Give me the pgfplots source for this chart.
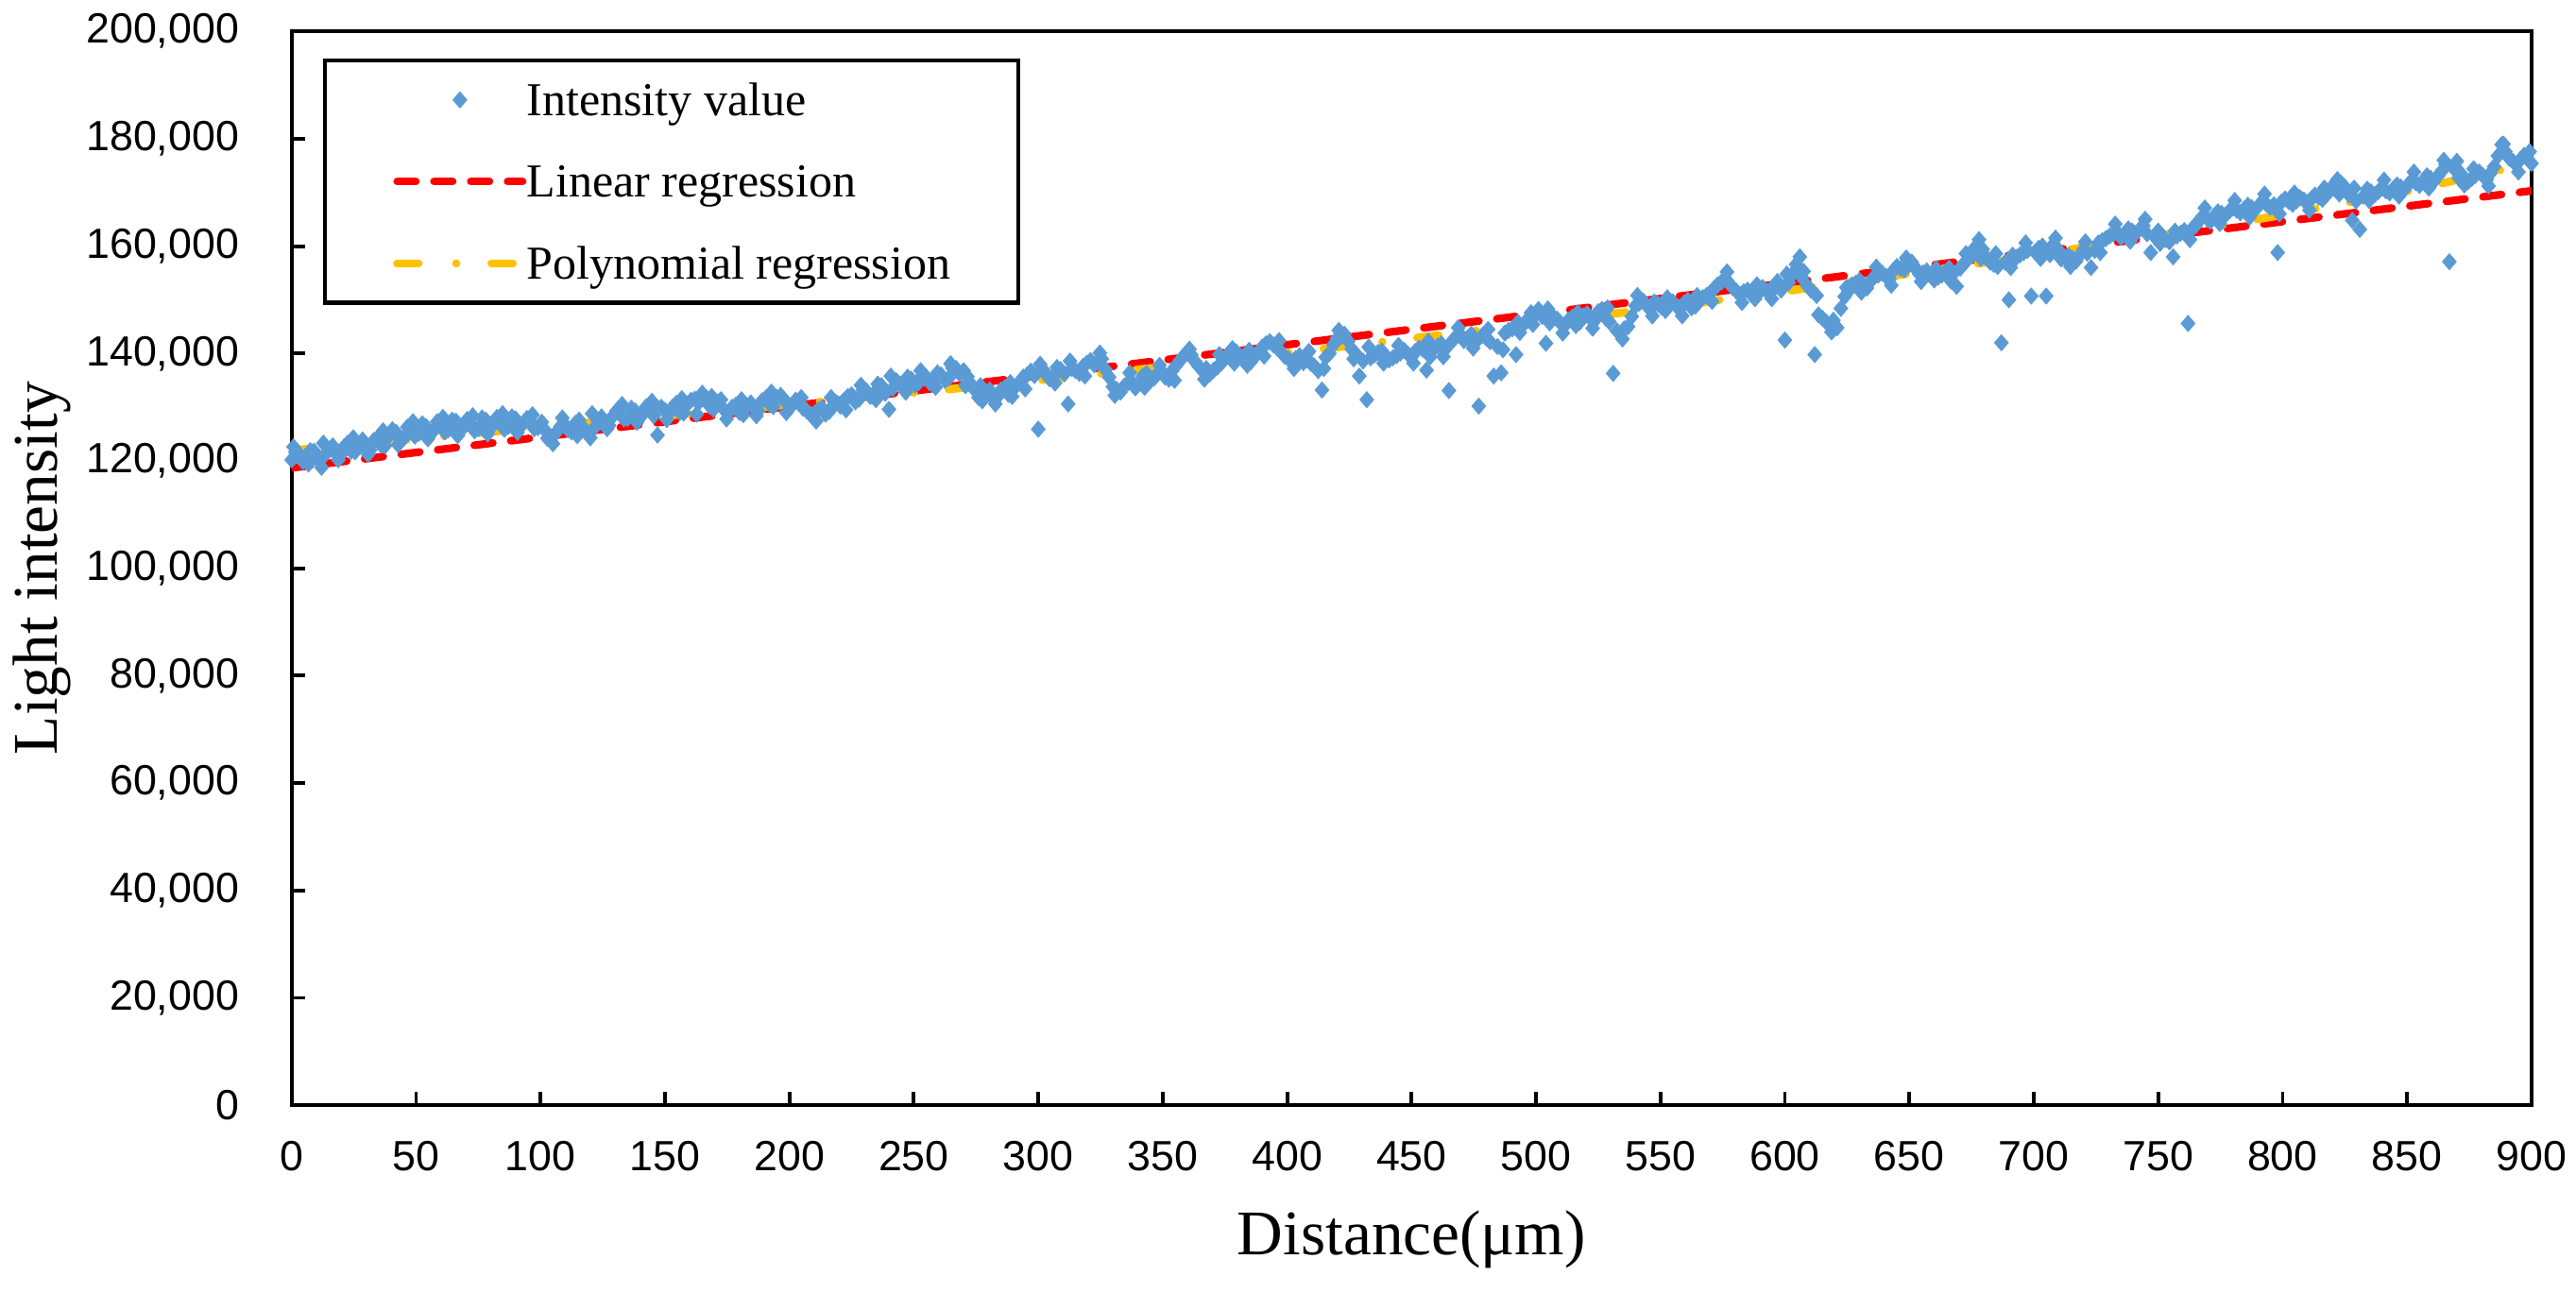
\documentclass[border=0pt]{standalone}
\usepackage{fontspec}
\setmainfont{Liberation Serif}
\newfontfamily\arialfont{Liberation Sans}
\usepackage{pgfplots}
\usepackage{pgfplotstable}
\pgfplotsset{compat=1.18}
\definecolor{ptblue}{HTML}{5B9BD5}
\definecolor{lnred}{HTML}{FF0000}
\definecolor{polyy}{HTML}{FFC000}
\pgfplotsset{
  mylinelegend/.style={legend image code/.code={\draw[##1] (0pt,0pt) -- (27.6pt,0pt);}},
  mymarklegend/.style={legend image code/.code={\draw[##1] plot coordinates {(13.8pt,0pt)};}},
  ptstyle/.style={only marks, mark=diamond*, mark size=1.75pt, color=ptblue,
    mark options={xscale=1.15, fill=ptblue, draw=ptblue, line width=0.2pt}},
}

\pgfplotstableread[row sep=\\]{
x y\\
0 120200\\ 3 121300\\ 6 120500\\ 9 121800\\ 12 118800\\ 15 122000\\ 18 121200\\ 21 122600\\ 24 121800\\ 27 123200\\
30 122400\\ 33 123800\\ 36 122900\\ 39 124600\\ 42 125300\\ 45 124200\\ 48 126000\\ 51 125100\\ 54 126400\\ 57 125600\\
60 126800\\ 63 125800\\ 66 127400\\ 69 126200\\ 72 127000\\ 75 126000\\ 78 127600\\ 81 126700\\ 84 127300\\ 87 126400\\
90 127800\\ 93 126900\\ 96 127200\\ 99 126200\\ 102 125600\\ 105 123200\\ 108 126400\\ 111 125800\\ 114 127000\\ 117 126300\\
120 124300\\ 123 127500\\ 126 127000\\ 129 128300\\ 132 128900\\ 135 127900\\ 138 129300\\ 141 128600\\ 144 129800\\ 147 124800\\
150 129400\\ 153 130000\\ 156 129000\\ 159 130600\\ 162 131500\\ 165 132600\\ 168 130200\\ 171 131000\\ 174 129400\\ 177 130000\\
180 129000\\ 183 130300\\ 186 129700\\ 189 131200\\ 192 130600\\ 195 131800\\ 198 131200\\ 201 130300\\ 204 130900\\ 207 129300\\
210 128800\\ 213 129900\\ 216 129200\\ 219 130800\\ 222 131300\\ 225 132300\\ 228 131500\\ 231 133000\\ 234 132600\\ 237 134000\\
240 129600\\ 243 134900\\ 246 133800\\ 249 135200\\ 252 134600\\ 255 135600\\ 258 134800\\ 261 136000\\ 264 135400\\ 267 137200\\
270 136800\\ 273 134300\\ 276 131800\\ 279 132800\\ 282 131600\\ 285 133200\\ 288 132400\\ 291 133900\\ 294 135600\\ 297 136700\\
300 125900\\ 303 136400\\ 306 135600\\ 309 137000\\ 312 130600\\ 315 136800\\ 318 137600\\ 321 138700\\ 324 138400\\ 327 137000\\
330 133800\\ 333 132800\\ 336 134500\\ 339 133600\\ 342 135800\\ 345 134900\\ 348 136300\\ 351 135600\\ 354 136900\\ 357 138700\\
360 140300\\ 363 138500\\ 366 136800\\ 369 136200\\ 372 137500\\ 375 139000\\ 378 140900\\ 381 139600\\ 384 137800\\ 387 139400\\
390 141200\\ 393 142200\\ 396 141000\\ 399 139500\\ 402 138400\\ 405 139600\\ 408 138800\\ 411 137600\\ 414 133200\\ 417 140000\\
420 142800\\ 423 143600\\ 426 140800\\ 429 135800\\ 432 131400\\ 435 139700\\ 438 140500\\ 441 138800\\ 444 139600\\ 447 140600\\
450 139400\\ 453 141000\\ 456 136900\\ 459 140900\\ 462 141800\\ 465 133100\\ 468 143200\\ 471 142400\\ 474 143600\\ 477 130200\\
480 142900\\ 483 135800\\ 486 136400\\ 489 144300\\ 492 139800\\ 495 145400\\ 498 147600\\ 501 148200\\ 504 141900\\ 507 146800\\
510 145600\\ 513 146200\\ 516 145200\\ 519 147000\\ 522 146400\\ 525 147800\\ 528 146600\\ 531 136300\\ 534 143800\\ 537 145000\\
540 148900\\ 543 149800\\ 546 148400\\ 549 149200\\ 552 148000\\ 555 149600\\ 558 148400\\ 561 149900\\ 564 148800\\ 567 150400\\
570 151300\\ 573 152800\\ 576 154000\\ 579 152300\\ 582 151000\\ 585 151800\\ 588 150200\\ 591 152300\\ 594 151200\\ 597 153400\\
600 142500\\ 603 154800\\ 606 158000\\ 609 152600\\ 612 139800\\ 615 146600\\ 618 145300\\ 621 144800\\ 624 150600\\ 627 152800\\
630 153600\\ 633 152200\\ 636 154300\\ 639 155000\\ 642 153800\\ 645 156200\\ 648 155600\\ 651 157000\\ 654 154800\\ 657 155400\\
660 153700\\ 663 154600\\ 666 155900\\ 669 152500\\ 672 156800\\ 675 158200\\ 678 161200\\ 681 157800\\ 684 156600\\ 687 142000\\
690 150000\\ 693 157900\\ 696 158800\\ 699 150700\\ 702 159600\\ 705 150700\\ 708 160400\\ 711 157600\\ 714 158200\\ 717 157200\\
720 159400\\ 723 156000\\ 726 160600\\ 729 161400\\ 732 162300\\ 735 161600\\ 738 163200\\ 741 162400\\ 744 163800\\ 747 158800\\
750 162800\\ 753 161200\\ 756 158000\\ 759 162400\\ 762 145600\\ 765 163800\\ 768 165600\\ 771 164600\\ 774 166400\\ 777 165800\\
780 167100\\ 783 166200\\ 786 167600\\ 789 166800\\ 792 168400\\ 795 167200\\ 798 158800\\ 801 168800\\ 804 167800\\ 807 169000\\
810 168100\\ 813 169500\\ 816 168700\\ 819 170300\\ 822 172400\\ 825 171000\\ 828 164800\\ 831 163100\\ 834 170600\\ 837 169600\\
840 170800\\ 843 169900\\ 846 171400\\ 849 170600\\ 852 172300\\ 855 171300\\ 858 173100\\ 861 172200\\ 864 174000\\ 867 157100\\
870 175800\\ 873 171400\\ 876 172600\\ 879 173800\\ 882 172400\\ 885 174800\\ 888 178900\\ 891 176400\\ 894 175300\\ 897 176900\\
900 175400\\
}\scatterdata

\pgfplotstableread[row sep=\\]{
x y\\
1.5 121600\\ 4.5 119900\\ 7.5 121900\\ 10.5 120400\\ 13.5 121200\\ 16.5 122800\\ 19.5 121000\\ 22.5 123300\\ 25.5 121700\\ 28.5 123900\\
31.5 122000\\ 34.5 124300\\ 37.5 122800\\ 40.5 125800\\ 43.5 124000\\ 46.5 126300\\ 49.5 124600\\ 52.5 126900\\ 55.5 125000\\ 58.5 127300\\
61.5 125400\\ 64.5 127600\\ 67.5 125900\\ 70.5 127700\\ 73.5 125600\\ 76.5 128000\\ 79.5 126100\\ 82.5 128100\\ 85.5 125900\\ 88.5 128200\\
91.5 126500\\ 94.5 127900\\ 97.5 126000\\ 100.5 127200\\ 103.5 124600\\ 106.5 125400\\ 109.5 126900\\ 112.5 125400\\ 115.5 127600\\ 118.5 125500\\
121.5 126100\\ 124.5 128200\\ 127.5 126600\\ 130.5 129300\\ 133.5 127800\\ 136.5 129800\\ 139.5 128000\\ 142.5 130100\\ 145.5 128400\\ 148.5 130000\\
151.5 128800\\ 154.5 130700\\ 157.5 128900\\ 160.5 131300\\ 163.5 130800\\ 166.5 131800\\ 169.5 129600\\ 172.5 131400\\ 175.5 129000\\ 178.5 130400\\
181.5 128600\\ 184.5 130800\\ 187.5 129300\\ 190.5 131700\\ 193.5 130100\\ 196.5 132200\\ 199.5 130600\\ 202.5 131300\\ 205.5 129800\\ 208.5 128600\\
211.5 129500\\ 214.5 128700\\ 217.5 130300\\ 220.5 130200\\ 223.5 132000\\ 226.5 131000\\ 229.5 133200\\ 232.5 132000\\ 235.5 134300\\ 238.5 132600\\
241.5 133500\\ 244.5 134200\\ 247.5 135600\\ 250.5 134100\\ 253.5 135900\\ 256.5 134500\\ 259.5 136400\\ 262.5 135000\\ 265.5 137300\\ 268.5 136200\\
271.5 135700\\ 274.5 133200\\ 277.5 131200\\ 280.5 133200\\ 283.5 131900\\ 286.5 133600\\ 289.5 132000\\ 292.5 134700\\ 295.5 136000\\ 298.5 135900\\
301.5 136900\\ 304.5 135300\\ 307.5 137400\\ 310.5 136200\\ 313.5 137200\\ 316.5 136300\\ 319.5 138200\\ 322.5 137900\\ 325.5 139000\\ 328.5 135600\\
331.5 133300\\ 334.5 133900\\ 337.5 134800\\ 340.5 134400\\ 343.5 136300\\ 346.5 135400\\ 349.5 136700\\ 352.5 135200\\ 355.5 137800\\ 358.5 139600\\
361.5 139700\\ 364.5 137600\\ 367.5 137200\\ 370.5 136900\\ 373.5 138200\\ 376.5 139900\\ 379.5 140300\\ 382.5 138800\\ 385.5 138500\\ 388.5 140300\\
391.5 141800\\ 394.5 141600\\ 397.5 140300\\ 400.5 139000\\ 403.5 139100\\ 406.5 138300\\ 409.5 138200\\ 412.5 136800\\ 415.5 139300\\ 418.5 141600\\
421.5 143100\\ 424.5 142300\\ 427.5 140000\\ 430.5 138600\\ 433.5 139200\\ 436.5 140200\\ 439.5 139600\\ 442.5 139200\\ 445.5 140100\\ 448.5 139900\\
451.5 140400\\ 454.5 140800\\ 457.5 139400\\ 460.5 141400\\ 463.5 140800\\ 466.5 142400\\ 469.5 143600\\ 472.5 142900\\ 475.5 142000\\ 478.5 143400\\
481.5 142200\\ 484.5 141300\\ 487.5 143800\\ 490.5 144600\\ 493.5 143900\\ 496.5 146300\\ 499.5 147100\\ 502.5 146900\\ 505.5 145700\\ 508.5 146400\\
511.5 145200\\ 514.5 146700\\ 517.5 145800\\ 520.5 147400\\ 523.5 146100\\ 526.5 148200\\ 529.5 145900\\ 532.5 144200\\ 535.5 144600\\ 538.5 146900\\
541.5 149400\\ 544.5 148900\\ 547.5 149600\\ 550.5 148600\\ 553.5 149000\\ 556.5 148800\\ 559.5 149400\\ 562.5 148500\\ 565.5 149800\\ 568.5 150800\\
571.5 152100\\ 574.5 153300\\ 577.5 153100\\ 580.5 151600\\ 583.5 151500\\ 586.5 151000\\ 589.5 151300\\ 592.5 151700\\ 595.5 152600\\ 598.5 151800\\
601.5 153200\\ 604.5 156600\\ 607.5 155300\\ 610.5 151800\\ 613.5 147200\\ 616.5 145900\\ 619.5 146200\\ 622.5 148400\\ 625.5 151600\\ 628.5 153100\\
631.5 152800\\ 634.5 153500\\ 637.5 154600\\ 640.5 154400\\ 643.5 155400\\ 646.5 155800\\ 649.5 156400\\ 652.5 155800\\ 655.5 155000\\ 658.5 154500\\
661.5 154200\\ 664.5 155200\\ 667.5 154800\\ 670.5 155900\\ 673.5 157500\\ 676.5 159800\\ 679.5 159400\\ 682.5 157000\\ 685.5 156200\\ 688.5 157000\\
691.5 158300\\ 694.5 158400\\ 697.5 159200\\ 700.5 158900\\ 703.5 160000\\ 706.5 158400\\ 709.5 159500\\ 712.5 157900\\ 715.5 157700\\ 718.5 158300\\
721.5 158700\\ 724.5 159200\\ 727.5 161000\\ 730.5 161900\\ 733.5 162600\\ 736.5 162400\\ 739.5 162800\\ 742.5 163100\\ 745.5 162300\\ 748.5 161800\\
751.5 162000\\ 754.5 160800\\ 757.5 161900\\ 760.5 162900\\ 763.5 163200\\ 766.5 164800\\ 769.5 165200\\ 772.5 165600\\ 775.5 166100\\ 778.5 166500\\
781.5 166700\\ 784.5 166900\\ 787.5 167200\\ 790.5 167600\\ 793.5 167800\\ 796.5 167700\\ 799.5 168200\\ 802.5 168300\\ 805.5 168400\\ 808.5 168600\\
811.5 168800\\ 814.5 169100\\ 817.5 169500\\ 820.5 171400\\ 823.5 171700\\ 826.5 169600\\ 829.5 168400\\ 832.5 169300\\ 835.5 170100\\ 838.5 170200\\
841.5 170300\\ 844.5 170700\\ 847.5 171000\\ 850.5 171500\\ 853.5 171800\\ 856.5 172200\\ 859.5 172600\\ 862.5 173100\\ 865.5 175200\\ 868.5 174600\\
871.5 173600\\ 874.5 172000\\ 877.5 173200\\ 880.5 173100\\ 883.5 173600\\ 886.5 176800\\ 889.5 177600\\ 892.5 175800\\ 895.5 176100\\ 898.5 176200\\
}\scatterdatab

\pgfplotstableread[row sep=\\]{
x y\\
0.75 122600\\ 6.75 119400\\ 12.75 123300\\ 18.75 120200\\ 24.75 124300\\ 30.75 121200\\ 36.75 125600\\ 42.75 123000\\ 48.75 127300\\ 54.75 124100\\
60.75 128100\\ 66.75 124700\\ 72.75 128400\\ 78.75 125000\\ 84.75 128800\\ 90.75 125300\\ 96.75 128600\\ 102.75 124200\\ 108.75 128000\\ 114.75 124700\\
120.75 128800\\ 126.75 126000\\ 132.75 130500\\ 138.75 127200\\ 144.75 131100\\ 150.75 127700\\ 156.75 131600\\ 162.75 128700\\ 168.75 132000\\ 174.75 127800\\
180.75 131400\\ 186.75 128400\\ 192.75 132800\\ 198.75 129000\\ 204.75 131800\\ 210.75 127400\\ 216.75 131800\\ 222.75 129500\\ 228.75 134100\\ 234.75 131400\\
240.75 135800\\ 246.75 132800\\ 252.75 136800\\ 258.75 133700\\ 264.75 138100\\ 270.75 134000\\ 276.75 134000\\ 282.75 130600\\ 288.75 134600\\ 294.75 133400\\
300.75 138000\\ 306.75 134500\\ 312.75 138600\\ 318.75 135800\\ 324.75 140100\\ 330.75 132200\\ 336.75 136400\\ 342.75 133700\\ 348.75 137800\\ 354.75 135000\\
360.75 140800\\ 366.75 135200\\ 372.75 139800\\ 378.75 138200\\ 384.75 140600\\ 390.75 139500\\ 396.75 142400\\ 402.75 137200\\ 408.75 140400\\ 414.75 137200\\
420.75 144300\\ 426.75 139000\\ 432.75 141200\\ 438.75 138200\\ 444.75 141500\\ 450.75 138200\\ 456.75 142300\\ 462.75 139400\\ 468.75 144800\\ 474.75 141000\\
480.75 144500\\ 486.75 140700\\ 492.75 145800\\ 498.75 145400\\ 504.75 148300\\ 510.75 143800\\ 516.75 147600\\ 522.75 144700\\ 528.75 148500\\ 534.75 142700\\
540.75 150800\\ 546.75 147000\\ 552.75 150400\\ 558.75 147000\\ 564.75 150800\\ 570.75 149700\\ 576.75 155200\\ 582.75 149500\\ 588.75 152800\\ 594.75 150200\\
600.75 154800\\ 606.75 154200\\ 612.75 150800\\ 618.75 144000\\ 624.75 152300\\ 630.75 151400\\ 636.75 156100\\ 642.75 152700\\ 648.75 157800\\ 654.75 153400\\
660.75 155800\\ 666.75 153500\\ 672.75 158600\\ 678.75 157700\\ 684.75 158600\\ 690.75 156000\\ 696.75 160600\\ 702.75 157700\\ 708.75 161500\\ 714.75 156200\\
720.75 160800\\ 726.75 158800\\ 732.75 164100\\ 738.75 160900\\ 744.75 165000\\ 750.75 160500\\ 756.75 162800\\ 762.75 161200\\ 768.75 167100\\ 774.75 164200\\
780.75 168500\\ 786.75 165400\\ 792.75 169700\\ 798.75 166000\\ 804.75 169900\\ 810.75 166700\\ 816.75 170800\\ 822.75 169700\\ 828.75 170800\\ 834.75 168500\\
840.75 172300\\ 846.75 169300\\ 852.75 173800\\ 858.75 170800\\ 864.75 176000\\ 870.75 172700\\ 876.75 174400\\ 882.75 171200\\ 888.75 179000\\ 894.75 173800\\
899.25 177600\\
}\scatterdatac

\pgfplotstableread[row sep=\\]{
x y\\
0 121950\\ 50 124100\\ 100 126300\\ 150 128400\\ 200 130500\\ 250 132700\\ 300 135000\\ 350 137500\\ 400 140100\\ 450 142800\\
500 145600\\ 550 148500\\ 600 151600\\ 650 154900\\ 700 158300\\ 750 161900\\ 800 165800\\ 850 170200\\ 900 175500\\
}\polydata

\begin{document}
\begin{tikzpicture}
\begin{axis}[
  scale only axis, width=493pt, height=236.4pt,
  xmin=0, xmax=900, ymin=0, ymax=200000,
  xtick={0,50,100,150,200,250,300,350,400,450,500,550,600,650,700,750,800,850,900},
  xticklabels={0,50,100,150,200,250,300,350,400,450,500,550,600,650,700,750,800,850,900},
  ytick={0,20000,40000,60000,80000,100000,120000,140000,160000,180000,200000},
  yticklabels={{0},{20,000},{40,000},{60,000},{80,000},{100,000},{120,000},{140,000},{160,000},{180,000},{200,000}},
  scaled y ticks=false, scaled x ticks=false,
  tick align=inside, tick pos=left, major tick length=3pt,
  every tick/.style={black, line width=0.8pt},
  axis line style={black, line width=0.85pt},
  ticklabel style={font=\arialfont\fontsize{9.3}{11}\selectfont, inner sep=0pt},
  xticklabel style={anchor=north, yshift=-7.7pt},
  yticklabel style={anchor=east, xshift=-11.4pt},
  xlabel={Distance(μm)}, ylabel={Light intensity},
  label style={font=\fontsize{14}{16}\selectfont, inner sep=0pt},
  xlabel style={at={(axis description cs:0.5,0)}, anchor=base, yshift=-32.9pt},
  ylabel style={at={(axis description cs:-0.1116,0.5)}, anchor=center},
  legend style={at={(axis description cs:0.014,0.9746)}, anchor=north west,
    draw=black, line width=0.85pt, fill=white, inner xsep=15pt, inner ysep=3.9pt,
    row sep=8.5pt, font=\fontsize{10.4}{12}\selectfont,
    nodes={inner sep=0pt, text height=8.2pt, text depth=1.3pt}},
  legend cell align=left,
]
\addplot[ptstyle, forget plot] table[x=x, y=y] {\scatterdatac};
\addplot[ptstyle, forget plot] table[x=x, y=y] {\scatterdatab};
\addplot[ptstyle, mymarklegend] table[x=x, y=y] {\scatterdata};
\addlegendentry{Intensity value}
\addplot[lnred, line width=1.7pt, line cap=round, dash pattern=on 4.1pt off 4pt, mylinelegend]
  coordinates {(0,118700) (900,170300)};
\addlegendentry{Linear regression}
\addplot[polyy, line width=1.8pt, line cap=round, dash pattern=on 4.7pt off 8.3pt on 0pt off 7.75pt, mylinelegend]
  table[x=x, y=y] {\polydata};
\addlegendentry{Polynomial regression}
\end{axis}
\path (current axis.south west) ++(-64.2pt,-41.2pt);
\path (current axis.north east) ++(9.8pt,6.9pt);
\end{tikzpicture}
\end{document}
